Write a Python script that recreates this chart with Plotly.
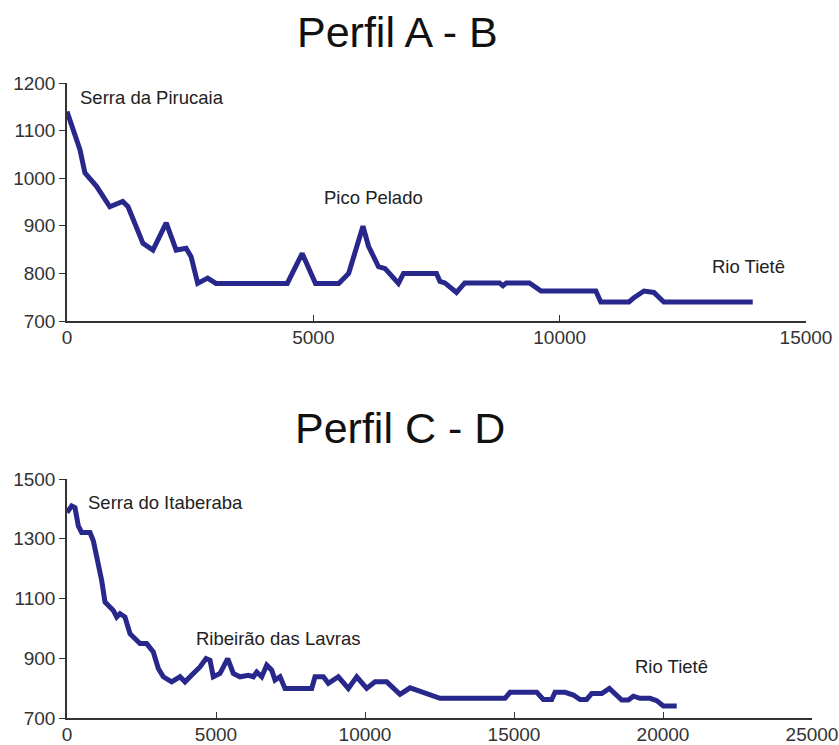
import plotly.graph_objects as go

# Perfil A - B (distance in m, altitude in m)
dist_ab = [0, 95, 263, 364, 600, 869, 1131, 1239, 1542, 1744, 2014, 2216, 2418, 2519,
           2653, 2855, 3024, 4471, 4774, 5044, 5515, 5717, 6007, 6121, 6323, 6458,
           6727, 6830, 7500, 7570, 7670, 7906, 8074, 8781, 8848, 8916, 9387, 9623,
           10734, 10835, 11407, 11508, 11710, 11912, 12114, 13919]
alt_ab = [1140, 1109, 1060, 1011, 983, 940, 951, 940, 863, 849, 906, 849, 853, 835,
          779, 790, 779, 779, 842, 779, 779, 800, 899, 857, 814, 810,
          779, 800, 800, 783, 780, 760, 780, 780, 774, 780, 780, 763,
          763, 740, 740, 749, 763, 760, 740, 740]

# Perfil C - D
dist_cd = [0, 157, 268, 380, 492, 772, 883, 1051, 1164, 1275, 1554, 1668, 1779, 1946,
           2114, 2450, 2674, 2896, 3064, 3232, 3513, 3792, 3960, 4239, 4463, 4665,
           4799, 4910, 5135, 5393, 5581, 5806, 6085, 6254, 6366, 6534, 6702, 6870,
           6981, 7149, 7316, 8212, 8323, 8603, 8770, 9105, 9441, 9722, 10058, 10337,
           10729, 11175, 11511, 11735, 12071, 12517, 14699, 14867, 15763, 15985, 16266,
           16377, 16713, 16992, 17216, 17440, 17608, 17944, 18200, 18616, 18838, 19005,
           19229, 19564, 19788, 20012, 20460]
alt_cd = [1388, 1410, 1404, 1343, 1321, 1321, 1293, 1216, 1160, 1088, 1060, 1038, 1049, 1038,
          982, 949, 949, 921, 866, 838, 821, 838, 821, 849, 871, 899,
          893, 838, 849, 899, 849, 838, 843, 838, 854, 838, 877, 860,
          827, 838, 799, 799, 838, 838, 816, 838, 799, 838, 799, 821,
          821, 779, 801, 793, 782, 766, 766, 786, 786, 762, 762,
          786, 786, 777, 762, 762, 782, 782, 799, 760, 760, 773,
          766, 766, 758, 740, 740]

labels_ab = ["Serra da Pirucaia", "Pico Pelado", "Rio Tietê"]
label_pos_ab = [(222, 1169), (6222, 959), (13838, 814)]
labels_cd = ["Serra do Itaberaba", "Ribeirão das Lavras", "Rio Tietê"]
label_pos_cd = [(638, 1421), (7081, 966), (20287, 873)]

titles = ["Perfil A - B", "Perfil C - D"]

x_ticks_ab = [0, 5000, 10000, 15000]
y_ticks_ab = [700, 800, 900, 1000, 1100, 1200]
x_ticks_cd = [0, 5000, 10000, 15000, 20000, 25000]
y_ticks_cd = [700, 900, 1100, 1300, 1500]

LINE = "#28288c"
FONT = "Arial, Liberation Sans, sans-serif"
W, H = 839, 745

fig = go.Figure()
fig.add_trace(go.Scatter(x=dist_ab, y=alt_ab, mode="lines", xaxis="x", yaxis="y",
                         line=dict(color=LINE, width=5), showlegend=False))
fig.add_trace(go.Scatter(x=dist_cd, y=alt_cd, mode="lines", xaxis="x2", yaxis="y2",
                         line=dict(color=LINE, width=5), showlegend=False))

axis_common = dict(showgrid=False, zeroline=False, showline=True, linecolor="#333333",
                   linewidth=1.5, tickcolor="#333333", tickwidth=1.3, automargin=False,
                   tickfont=dict(family=FONT, size=19, color="#333333"))

L, R = 67, 27
pw = W - L - R


def xa(vals, rng, dom, anchor):
    return dict(domain=dom, range=rng, tickvals=vals, ticktext=[str(v) for v in vals],
                ticks="inside", ticklen=6, ticklabelstandoff=-2, anchor=anchor, **axis_common)


def ya(vals, rng, dom, anchor):
    return dict(domain=dom, range=rng, tickvals=vals, ticktext=[str(v) for v in vals],
                ticks="outside", ticklen=6, ticklabelstandoff=0, anchor=anchor, **axis_common)


def ya_inner(vals, over, anchor):
    # second set of tick marks so the y ticks cross the axis line
    return dict(overlaying=over, matches=over, anchor=anchor, side="left", tickvals=vals,
                ticks="inside", ticklen=5, tickcolor="#333333", tickwidth=1.3,
                showticklabels=False, showline=False, showgrid=False, zeroline=False,
                automargin=False)


fig.update_layout(
    width=W, height=H, plot_bgcolor="white", paper_bgcolor="white",
    margin=dict(l=L, r=R, t=0, b=0, autoexpand=False),
    xaxis=xa(x_ticks_ab, [0, 15000], [0, (806 - L) / pw], "y"),
    yaxis=ya(y_ticks_ab, [700, 1200], [1 - 321 / H, 1 - 83 / H], "x"),
    xaxis2=xa(x_ticks_cd, [0, 25000], [0, 1], "y2"),
    yaxis2=ya(y_ticks_cd, [700, 1500], [1 - 718 / H, 1 - 479 / H], "x2"),
    yaxis3=ya_inner(y_ticks_ab, "y", "x"),
    yaxis4=ya_inner(y_ticks_cd, "y2", "x2"),
)

anns = []
for i, (txt, (x, y)) in enumerate(zip(labels_ab, label_pos_ab)):
    anns.append(dict(text=txt, x=x, y=y, xref="x", yref="y", showarrow=False,
                     xanchor="left" if i == 0 else "center", yanchor="middle",
                     font=dict(family=FONT, size=18.5, color="#222222")))
for i, (txt, (x, y)) in enumerate(zip(labels_cd, label_pos_cd)):
    anns.append(dict(text=txt, x=x, y=y, xref="x2", yref="y2", showarrow=False,
                     xanchor="left" if i == 0 else "center", yanchor="middle",
                     font=dict(family=FONT, size=18.5, color="#222222")))
for txt, (px, py) in zip(titles, [(397, 32), (400, 428)]):
    anns.append(dict(text=txt, x=(px - L) / pw, y=1 - py / H, xref="paper", yref="paper",
                     showarrow=False, xanchor="center", yanchor="middle",
                     font=dict(family=FONT, size=43, color="#111111")))
fig.update_layout(annotations=anns)

fig.write_html("out.html", config={"displayModeBar": False},
               post_script="document.body.style.margin='0';document.body.style.overflow='hidden';")
